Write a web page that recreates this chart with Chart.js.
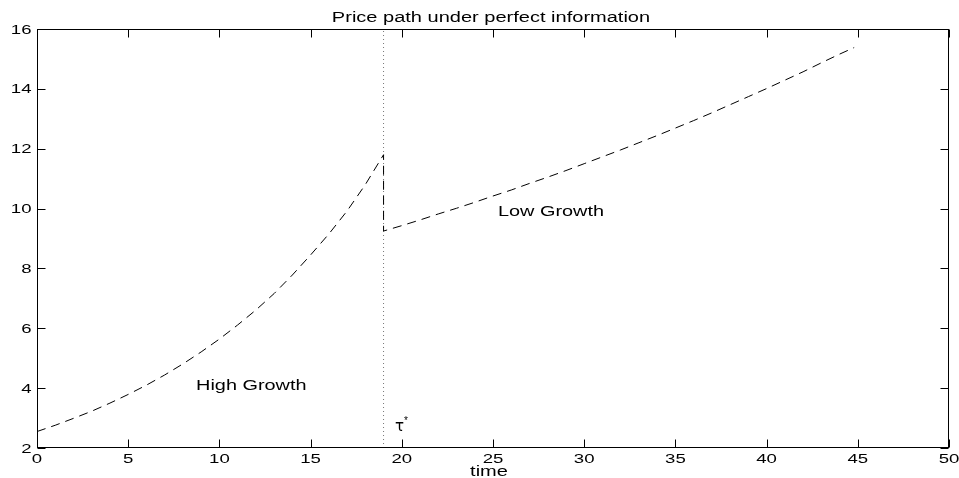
<!DOCTYPE html>
<html>
<head>
<meta charset="utf-8">
<script src="https://cdn.jsdelivr.net/npm/chart.js@4/dist/chart.umd.min.js"></script>
<style>
  html, body { margin: 0; padding: 0; background: #fff; }
  #wrap { width: 959px; height: 478px; }
</style>
</head>
<body>
<div id="wrap"><canvas id="chart" width="959" height="478"></canvas></div>
<script>
// price path
const highX = [0, 1, 2, 3, 4, 5, 6, 7, 8, 9, 10, 11, 12, 13, 14, 15, 16, 17, 18, 19];
const highY = [2.55, 2.76, 2.99, 3.23, 3.50, 3.79, 4.10, 4.44, 4.81, 5.21, 5.64, 6.11, 6.61, 7.16, 7.78, 8.45, 9.15, 9.92, 10.8, 11.8];
const lowX = [19, 20, 21, 22, 23, 24, 25, 26, 27, 28, 29, 30, 31, 32, 33, 34, 35, 36, 37, 38, 39, 40, 41, 42, 43, 44, 44.8];
const lowY = [9.25, 9.43, 9.62, 9.82, 10.01, 10.21, 10.42, 10.62, 10.84, 11.05, 11.27, 11.5, 11.73, 11.96, 12.2, 12.44, 12.69, 12.94, 13.2, 13.47, 13.74, 14.01, 14.29, 14.57, 14.87, 15.16, 15.38];
const switchTime = 19;
const xTicks = [0, 5, 10, 15, 20, 25, 30, 35, 40, 45, 50];
const yTicks = [2, 4, 6, 8, 10, 12, 14, 16];
const titleText = 'Price path under perfect information';
const xTitle = 'time';
const notes = [
  { text: 'High Growth', x: 8.72, y: 3.94 },
  { text: 'Low Growth', x: 25.27, y: 9.75 }
];
const tauAt = { x: 19.63, y: 2.57 };

const FONT = '"Liberation Sans", Arial, sans-serif';

const pathPts = highX.map((x, i) => ({ x, y: highY[i] }))
  .concat(lowX.map((x, i) => ({ x, y: lowY[i] })));

// the old figure's lettering is wide, so stretch it sideways
function wideText(ctx, text, x, y, size, sx, align) {
  ctx.save();
  ctx.font = size + 'px ' + FONT;
  ctx.textAlign = align || 'left';
  ctx.translate(x, y);
  ctx.scale(sx, 1);
  ctx.fillText(text, 0, 0);
  ctx.restore();
}

// matlab style box with inward ticks, labels and notes
const boxPlugin = {
  id: 'box',
  afterDatasetsDraw(chart) {
    const { ctx, chartArea: a, scales: { x, y } } = chart;
    ctx.save();
    ctx.strokeStyle = '#000';
    ctx.lineWidth = 1;
    const L = Math.round(a.left) + 0.5, R = Math.round(a.right) - 0.5;
    const T = Math.round(a.top) + 0.5, B = Math.round(a.bottom) - 0.5;
    ctx.strokeRect(L, T, R - L, B - T);
    ctx.beginPath();
    xTicks.forEach(v => {
      const p = Math.round(x.getPixelForValue(v)) + 0.5;
      ctx.moveTo(p, B); ctx.lineTo(p, B - 8);
      ctx.moveTo(p, T); ctx.lineTo(p, T + 8);
    });
    yTicks.forEach(v => {
      const p = Math.round(y.getPixelForValue(v)) + 0.5;
      ctx.moveTo(L, p); ctx.lineTo(L + 8, p);
      ctx.moveTo(R, p); ctx.lineTo(R - 8, p);
    });
    ctx.stroke();

    ctx.fillStyle = '#000';
    ctx.textBaseline = 'alphabetic';
    xTicks.forEach(v => wideText(ctx, String(v), x.getPixelForValue(v), B + 15, 12, 1.55, 'center'));
    yTicks.forEach(v => wideText(ctx, String(v), L - 6, y.getPixelForValue(v) + 4.5, 12, 1.55, 'right'));
    wideText(ctx, titleText, (a.left + a.right) / 2 - 2, 22, 14, 1.43, 'center');
    wideText(ctx, xTitle, (a.left + a.right) / 2 - 4, 476, 14, 1.43, 'center');
    notes.forEach(n => wideText(ctx, n.text, x.getPixelForValue(n.x), y.getPixelForValue(n.y), 14, 1.42, 'left'));

    // tau star
    const tx = x.getPixelForValue(tauAt.x), ty = y.getPixelForValue(tauAt.y);
    ctx.font = '15px "DejaVu Sans", sans-serif';
    ctx.textAlign = 'left';
    ctx.fillText('τ', tx, ty);
    ctx.font = '10px ' + FONT;
    ctx.fillText('*', tx + 9, ty - 7);
    ctx.restore();
  }
};

new Chart(document.getElementById('chart'), {
  type: 'scatter',
  data: {
    datasets: [
      {
        data: pathPts,
        showLine: true,
        borderColor: '#000',
        borderWidth: 1,
        borderDash: [9, 6],
        pointRadius: 0,
        tension: 0
      },
      {
        data: [{ x: switchTime, y: 2 }, { x: switchTime, y: 16 }],
        showLine: true,
        borderColor: '#777',
        borderWidth: 1,
        borderDash: [1, 3],
        pointRadius: 0
      }
    ]
  },
  options: {
    responsive: false,
    animation: false,
    layout: { padding: { left: 0, right: 10, top: 29, bottom: 0 } },
    plugins: {
      legend: { display: false },
      tooltip: { enabled: false },
      title: { display: false }
    },
    scales: {
      x: {
        type: 'linear', min: 0, max: 50,
        grid: { display: false, drawTicks: false },
        border: { display: false },
        afterBuildTicks: s => { s.ticks = xTicks.map(v => ({ value: v })); },
        ticks: { display: false },
        afterFit: s => { s.height = 30; }
      },
      y: {
        type: 'linear', min: 2, max: 16,
        grid: { display: false, drawTicks: false },
        border: { display: false },
        afterBuildTicks: s => { s.ticks = yTicks.map(v => ({ value: v })); },
        ticks: { display: false },
        afterFit: s => { s.width = 37; }
      }
    }
  },
  plugins: [boxPlugin]
});
</script>
</body>
</html>
